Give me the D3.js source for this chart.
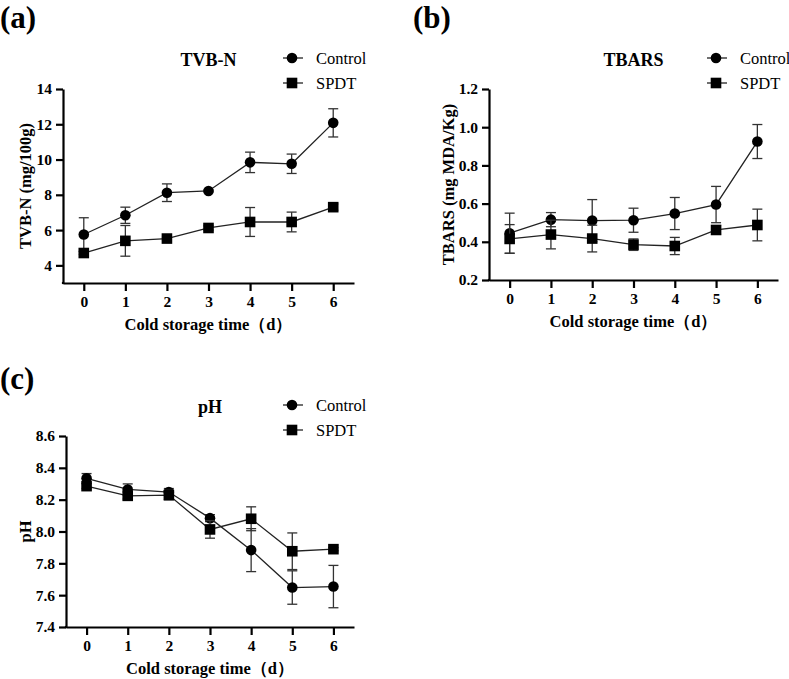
<!DOCTYPE html>
<html>
<head>
<meta charset="utf-8">
<script src="https://cdn.jsdelivr.net/npm/d3@7"></script>
<style>
  html, body { margin: 0; padding: 0; background: #fff; }
  svg { display: block; }
  svg text { font-family: "Liberation Serif", "Times New Roman", serif !important; fill: #000; }
</style>
</head>
<body>
<svg id="chart" width="789" height="679"></svg>
<script>
// ---- data ----
const days = [0, 1, 2, 3, 4, 5, 6];
const seriesNames = ["Control", "SPDT"];

const tvbnControl   = [5.75, 6.84, 8.12, 8.22, 9.84, 9.76, 12.08];
const tvbnControlSD = [0.95, 0.46, 0.50, 0.05, 0.58, 0.55, 0.80];
const tvbnSPDT      = [4.70, 5.39, 5.52, 6.12, 6.46, 6.46, 7.30];
const tvbnSPDTSD    = [0.08, 0.87, 0.08, 0.12, 0.82, 0.56, 0.18];
const tvbnTicks     = [4, 6, 8, 10, 12, 14];

const tbarsControl   = [0.445, 0.516, 0.511, 0.513, 0.548, 0.595, 0.925];
const tbarsControlSD = [0.105, 0.037, 0.110, 0.063, 0.084, 0.095, 0.089];
const tbarsSPDT      = [0.415, 0.438, 0.417, 0.385, 0.378, 0.462, 0.488];
const tbarsSPDTSD    = [0.075, 0.075, 0.070, 0.030, 0.045, 0.022, 0.083];
const tbarsTicks     = [0.2, 0.4, 0.6, 0.8, 1.0, 1.2];

const phControl   = [8.334, 8.264, 8.248, 8.084, 7.883, 7.648, 7.654];
const phControlSD = [0.030, 0.035, 0.022, 0.022, 0.135, 0.105, 0.133];
const phSPDT      = [8.285, 8.224, 8.229, 8.013, 8.080, 7.876, 7.889];
const phSPDTSD    = [0.015, 0.020, 0.030, 0.055, 0.075, 0.115, 0.010];
const phTicks     = [7.4, 7.6, 7.8, 8.0, 8.2, 8.4, 8.6];

const xTitle = "Cold storage time（d）";

// ---- drawing ----
const FONT = "Liberation Serif, Times New Roman, serif";
const svg = d3.select("#chart");

function txt(g) {
  return g.append("text").attr("font-family", FONT).attr("fill", "#000");
}

function drawPanel(cfg) {
  const g = svg.append("g");
  const x = d3.scaleLinear().domain([-0.5, 6.5]).range([cfg.x0, cfg.x1]);
  const y = d3.scaleLinear().domain(cfg.yDomain).range([cfg.y0, cfg.y1]);

  // panel letter
  txt(g).attr("x", cfg.letterX).attr("y", cfg.letterY)
    .attr("font-size", 31).attr("font-weight", "bold").text(cfg.letter);

  // axes
  const xAxis = d3.axisBottom(x).tickValues(days).tickFormat(d3.format("d"))
    .tickSizeInner(8).tickSizeOuter(0).tickPadding(5);
  const yAxis = d3.axisLeft(y).tickValues(cfg.ticks).tickFormat(d3.format(cfg.fmt))
    .tickSizeInner(7).tickSizeOuter(0).tickPadding(4);

  const gx = g.append("g").attr("transform", `translate(0,${cfg.y0})`).call(xAxis);
  const gy = g.append("g").attr("transform", `translate(${cfg.x0},0)`).call(yAxis);
  [gx, gy].forEach(a => {
    a.attr("font-family", FONT);
    a.select(".domain").attr("stroke", "#000").attr("stroke-width", 2.2);
    a.selectAll(".tick line").attr("stroke", "#000").attr("stroke-width", 2.2);
    a.selectAll(".tick text").attr("font-size", 15.5).attr("font-weight", "bold")
      .attr("font-family", FONT).attr("fill", "#000");
  });
  g.append("line").attr("x1", cfg.x0 - 1.1).attr("x2", cfg.x0 + 1)
    .attr("y1", cfg.y0).attr("y2", cfg.y0).attr("stroke", "#000").attr("stroke-width", 2.2);

  // axis titles
  txt(g).attr("x", (cfg.x0 + cfg.x1) / 2).attr("y", cfg.y0 + 47)
    .attr("text-anchor", "middle").attr("font-size", 16.5).attr("font-weight", "bold")
    .text(xTitle);
  txt(g)
    .attr("transform", `translate(${cfg.yTitleX},${(cfg.y0 + cfg.y1) / 2}) rotate(-90)`)
    .attr("text-anchor", "middle").attr("font-size", 16.5).attr("font-weight", "bold")
    .text(cfg.yTitle);

  // chart title
  txt(g).attr("x", (cfg.x0 + cfg.x1) / 2).attr("y", cfg.y1 - 23)
    .attr("text-anchor", "middle").attr("font-size", 18).attr("font-weight", "bold")
    .text(cfg.title);

  const series = [
    { name: seriesNames[0], vals: cfg.control, sd: cfg.controlSD, shape: "circle" },
    { name: seriesNames[1], vals: cfg.spdt, sd: cfg.spdtSD, shape: "square" }
  ];

  const line = d3.line().x((d, i) => x(days[i])).y(d => y(d));

  series.forEach(s => {
    const sg = g.append("g");
    s.vals.forEach((v, i) => {
      const cx = x(days[i]);
      const top = y(v + s.sd[i]), bot = y(v - s.sd[i]);
      sg.append("line").attr("x1", cx).attr("x2", cx).attr("y1", top).attr("y2", bot)
        .attr("stroke", "#333").attr("stroke-width", 1.3);
      [top, bot].forEach(yy => sg.append("line").attr("x1", cx - 5).attr("x2", cx + 5)
        .attr("y1", yy).attr("y2", yy).attr("stroke", "#333").attr("stroke-width", 1.3));
    });
    sg.append("path").datum(s.vals).attr("d", line).attr("fill", "none")
      .attr("stroke", "#222").attr("stroke-width", 1.3);
    s.vals.forEach((v, i) => drawMarker(sg, s.shape, x(days[i]), y(v)));
  });

  // legend
  series.forEach((s, k) => {
    const ly = cfg.y1 - 31 + k * 25;
    const lx = cfg.x1 - 62;
    g.append("line").attr("x1", lx - 9).attr("x2", lx + 11).attr("y1", ly).attr("y2", ly)
      .attr("stroke", "#222").attr("stroke-width", 1.3);
    drawMarker(g, s.shape, lx, ly);
    txt(g).attr("x", lx + 24).attr("y", ly + 5.5).attr("font-size", 16.5)
      .attr("font-weight", "normal").text(s.name);
  });
}

function drawMarker(g, shape, cx, cy) {
  if (shape === "circle") {
    g.append("circle").attr("cx", cx).attr("cy", cy).attr("r", 5.3).attr("fill", "#000");
  } else {
    g.append("rect").attr("x", cx - 5.3).attr("y", cy - 5.3).attr("width", 10.6)
      .attr("height", 10.6).attr("fill", "#000");
  }
}

drawPanel({
  letter: "(a)", letterX: 0, letterY: 28,
  x0: 63, x1: 354, y0: 283, y1: 89, yDomain: [3, 14], ticks: tvbnTicks, fmt: "d",
  yTitle: "TVB-N (mg/100g)", yTitleX: 31, title: "TVB-N",
  control: tvbnControl, controlSD: tvbnControlSD, spdt: tvbnSPDT, spdtSD: tvbnSPDTSD
});
drawPanel({
  letter: "(b)", letterX: 413, letterY: 28,
  x0: 489, x1: 778, y0: 280, y1: 89, yDomain: [0.2, 1.2], ticks: tbarsTicks, fmt: ".1f",
  yTitle: "TBARS (mg MDA/Kg)", yTitleX: 454, title: "TBARS",
  control: tbarsControl, controlSD: tbarsControlSD, spdt: tbarsSPDT, spdtSD: tbarsSPDTSD
});
drawPanel({
  letter: "(c)", letterX: 0, letterY: 389,
  x0: 66, x1: 354, y0: 627, y1: 436, yDomain: [7.4, 8.6], ticks: phTicks, fmt: ".1f",
  yTitle: "pH", yTitleX: 31, title: "pH",
  control: phControl, controlSD: phControlSD, spdt: phSPDT, spdtSD: phSPDTSD
});
</script>
</body>
</html>
